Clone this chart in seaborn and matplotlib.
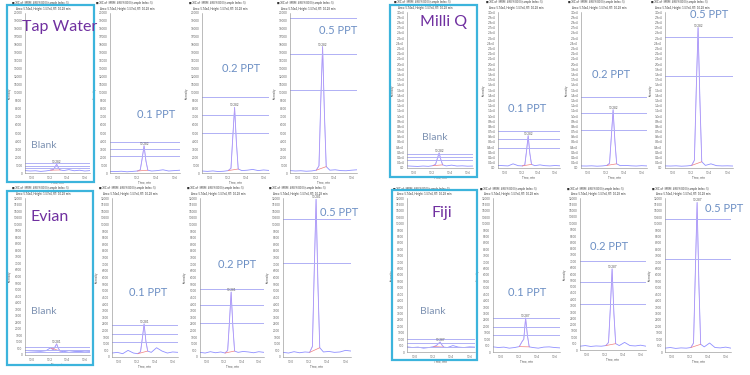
import numpy as np
import pandas as pd
import matplotlib.pyplot as plt
from matplotlib.patches import Rectangle
import seaborn as sns

# retention times (min) shared by every trace
times = [9.92, 9.98, 10.04, 10.10, 10.16, 10.21, 10.24, 10.26, 10.28,
         10.30, 10.32, 10.36, 10.42, 10.48, 10.54, 10.60, 10.66]

# Tap Water traces (counts)
tap_blank = [300, 250, 280, 200, 260, 350, 420, 700, 1100, 650, 380, 300, 420, 280, 350, 250, 300]
tap_01 = [200, 180, 220, 150, 200, 250, 400, 1800, 3400, 1500, 350, 250, 300, 400, 250, 300, 350]
tap_02 = [250, 200, 260, 180, 220, 300, 600, 4500, 8200, 3800, 500, 300, 350, 450, 300, 380, 320]
tap_05 = [300, 250, 280, 220, 260, 350, 900, 9000, 15800, 7500, 800, 350, 400, 300, 280, 350, 400]

# Milli Q traces
mq_blank = [400, 350, 300, 380, 320, 450, 700, 1800, 2900, 1600, 600, 400, 550, 380, 420, 350, 380]
mq_01 = [500, 450, 400, 800, 450, 400, 600, 3200, 6200, 2800, 700, 450, 600, 450, 400, 480, 420]
mq_02 = [400, 380, 420, 350, 400, 500, 900, 6000, 11200, 5200, 800, 450, 500, 420, 380, 450, 400]
mq_05 = [400, 380, 420, 350, 400, 500, 1500, 15000, 27000, 13000, 1200, 500, 800, 450, 400, 420, 380]

# Evian traces
ev_blank = [350, 320, 300, 280, 330, 550, 400, 600, 850, 500, 300, 250, 330, 280, 260, 300, 280]
ev_01 = [300, 350, 250, 500, 300, 250, 400, 1400, 2500, 1200, 450, 350, 700, 450, 300, 380, 350]
ev_02 = [350, 300, 400, 320, 380, 300, 500, 2600, 4900, 2300, 450, 350, 420, 380, 320, 400, 350]
ev_05 = [350, 300, 400, 320, 380, 350, 800, 6500, 11900, 5500, 700, 380, 420, 350, 380, 500, 450]

# Fiji traces
fj_blank = [400, 350, 380, 300, 350, 420, 500, 650, 780, 550, 380, 350, 500, 380, 350, 400, 380]
fj_01 = [400, 350, 380, 300, 350, 420, 800, 1000, 2650, 1300, 400, 350, 300, 380, 400, 350, 320]
fj_02 = [300, 350, 280, 320, 300, 350, 600, 3300, 6400, 2900, 500, 350, 600, 350, 320, 380, 300]
fj_05 = [300, 350, 280, 320, 300, 350, 700, 6200, 11650, 5300, 600, 400, 700, 350, 320, 380, 300]

# ion-ratio / limit lines drawn across each panel
tap_lines = [[1250, 875, 600], [3900, 3000, 2100], [9500, 7250, 5000], [19400, 14900, 10400]]
mq_lines = [[2700, 2100, 1500], [7100, 5550, 3850], [13650, 10550, 7300], [25200, 17700]]
ev_lines = [[620, 420, 200], [2440, 1760, 1150], [5120, 3900, 2600], [10400, 7100]]
fj_lines = [[1000, 700, 400], [2650, 1950, 1320], [7000, 5400, 3650], [10400, 7250]]

peak_rt = ["10.282", "10.282", "10.281", "10.287"]
levels = ["Blank", "0.1 PPT", "0.2 PPT", "0.5 PPT"]
waters = ["Tap Water", "Milli Q", "Evian", "Fiji"]
y_max = [20000, 30000, 12000, 12000]
y_step = [1000, 1000, 500, 500]
x_ticks = [10.0, 10.2, 10.4, 10.6]
int_start, int_end = 10.21, 10.34

traces = [[tap_blank, tap_01, tap_02, tap_05],
          [mq_blank, mq_01, mq_02, mq_05],
          [ev_blank, ev_01, ev_02, ev_05],
          [fj_blank, fj_01, fj_02, fj_05]]
limits = [tap_lines, mq_lines, ev_lines, fj_lines]

# layout in pixels (left, right, top, bottom)
W, H = 750, 375
boxes = [[(25, 90, 13, 173), (110, 180, 13, 173), (202, 269, 13, 173), (290, 357, 13, 173)],
         [(407, 473, 12, 168), (498, 560, 12, 168), (581, 647, 12, 168), (665, 733, 12, 168)],
         [(25, 90, 198, 355), (112, 178, 198, 357), (200, 264, 198, 357), (283, 351, 198, 357)],
         [(407, 475, 198, 352), (493, 560, 198, 352), (580, 646, 198, 350), (665, 731, 198, 352)]]
name_pos = [(22, 27), (420, 22), (30, 217), (432, 213)]
level_pos = [[(31, 145), (137, 115), (222, 68), (319, 30)],
             [(422, 138), (508, 108), (592, 74), (690, 15)],
             [(31, 311), (129, 293), (218, 265), (320, 213)],
             [(420, 311), (508, 292), (590, 246), (705, 208)]]
frames = [(7, 94, 5, 182), (390, 477, 5, 177), (7, 93, 191, 365), (392, 477, 190, 360)]

sns.set_style("white")
plt.rcParams['font.family'] = ['Lato', 'DejaVu Sans']

fig = plt.figure(figsize=(7.5, 3.75), dpi=100)

for g in range(4):
    for k in range(4):
        l, r, t, b = boxes[g][k]
        ax = fig.add_axes([l / W, 1 - b / H, (r - l) / W, (b - t) / H])
        df = pd.DataFrame({"time": times, "counts": traces[g][k]})
        sns.lineplot(data=df, x="time", y="counts", ax=ax, color="#8f8fff", lw=0.6)
        # integrated peak
        pk = df[(df.time >= int_start) & (df.time <= int_end)]
        sns.lineplot(data=pk, x="time", y="counts", ax=ax, color="#c8a0f0", lw=0.4, alpha=0.8)
        ax.plot([pk.time.iloc[0], pk.time.iloc[-1]], [pk.counts.iloc[0], pk.counts.iloc[-1]],
                color="#f08080", lw=0.5)
        for yv in limits[g][k]:
            ax.axhline(yv, color="#b0b0f5", lw=0.7)
        i = int(np.argmax(traces[g][k]))
        ax.text(times[i], traces[g][k][i], peak_rt[g], fontsize=2.2, color="#555555",
                ha="center", va="bottom")
        ax.set_xlim(times[0], times[-1])
        ax.set_ylim(0, y_max[g])
        ax.set_yticks(np.arange(0, y_max[g] + 1, y_step[g]))
        if g == 1:
            ax.set_yticklabels([f"{v / 1e4:.1f}e4" if v else "0.0" for v in ax.get_yticks()])
        else:
            ax.set_yticklabels([f"{int(v)}" for v in ax.get_yticks()])
        ax.set_xticks(x_ticks)
        ax.set_xticklabels([f"{v:.1f}" for v in x_ticks])
        ax.tick_params(labelsize=2.2, length=1.2, width=0.3, pad=0.8, colors="#666666")
        ax.set_xlabel("Time, min", fontsize=2.2, labelpad=0.5, color="#555555")
        ax.set_ylabel("Intensity", fontsize=2.2, labelpad=1, color="#555555")
        for s in ["top", "right"]:
            ax.spines[s].set_visible(False)
        for s in ["left", "bottom"]:
            ax.spines[s].set_linewidth(0.4)
            ax.spines[s].set_color("#888888")
        ax.text(-0.2, 1.055, "\u25a0 XIC of -MRM: 498.9/80.0 (sample Index: 5)",
                transform=ax.transAxes, fontsize=2.0, color="#333333", clip_on=False)
        ax.text(-0.14, 1.02, "Area: 5.74e4, Height: 1.57e4, RT: 10.28 min",
                transform=ax.transAxes, fontsize=2.0, color="#333333", clip_on=False)
        px, py = level_pos[g][k]
        fig.text(px / W, 1 - py / H, levels[k], fontsize=8 if k else 7.5,
                 color="#7f93b3" if k == 0 else "#6c8fc4", ha="left", va="center")
    nx, ny = name_pos[g]
    fig.text(nx / W, 1 - ny / H, waters[g], fontsize=11.5, color="#7030a0",
             ha="left", va="center")
    fl, fr, ft, fb = frames[g]
    fig.patches.append(Rectangle((fl / W, 1 - fb / H), (fr - fl) / W, (fb - ft) / H,
                                 transform=fig.transFigure, fill=False,
                                 edgecolor="#3cb4dc", lw=1.6))

fig.savefig("out.png", dpi=100)
